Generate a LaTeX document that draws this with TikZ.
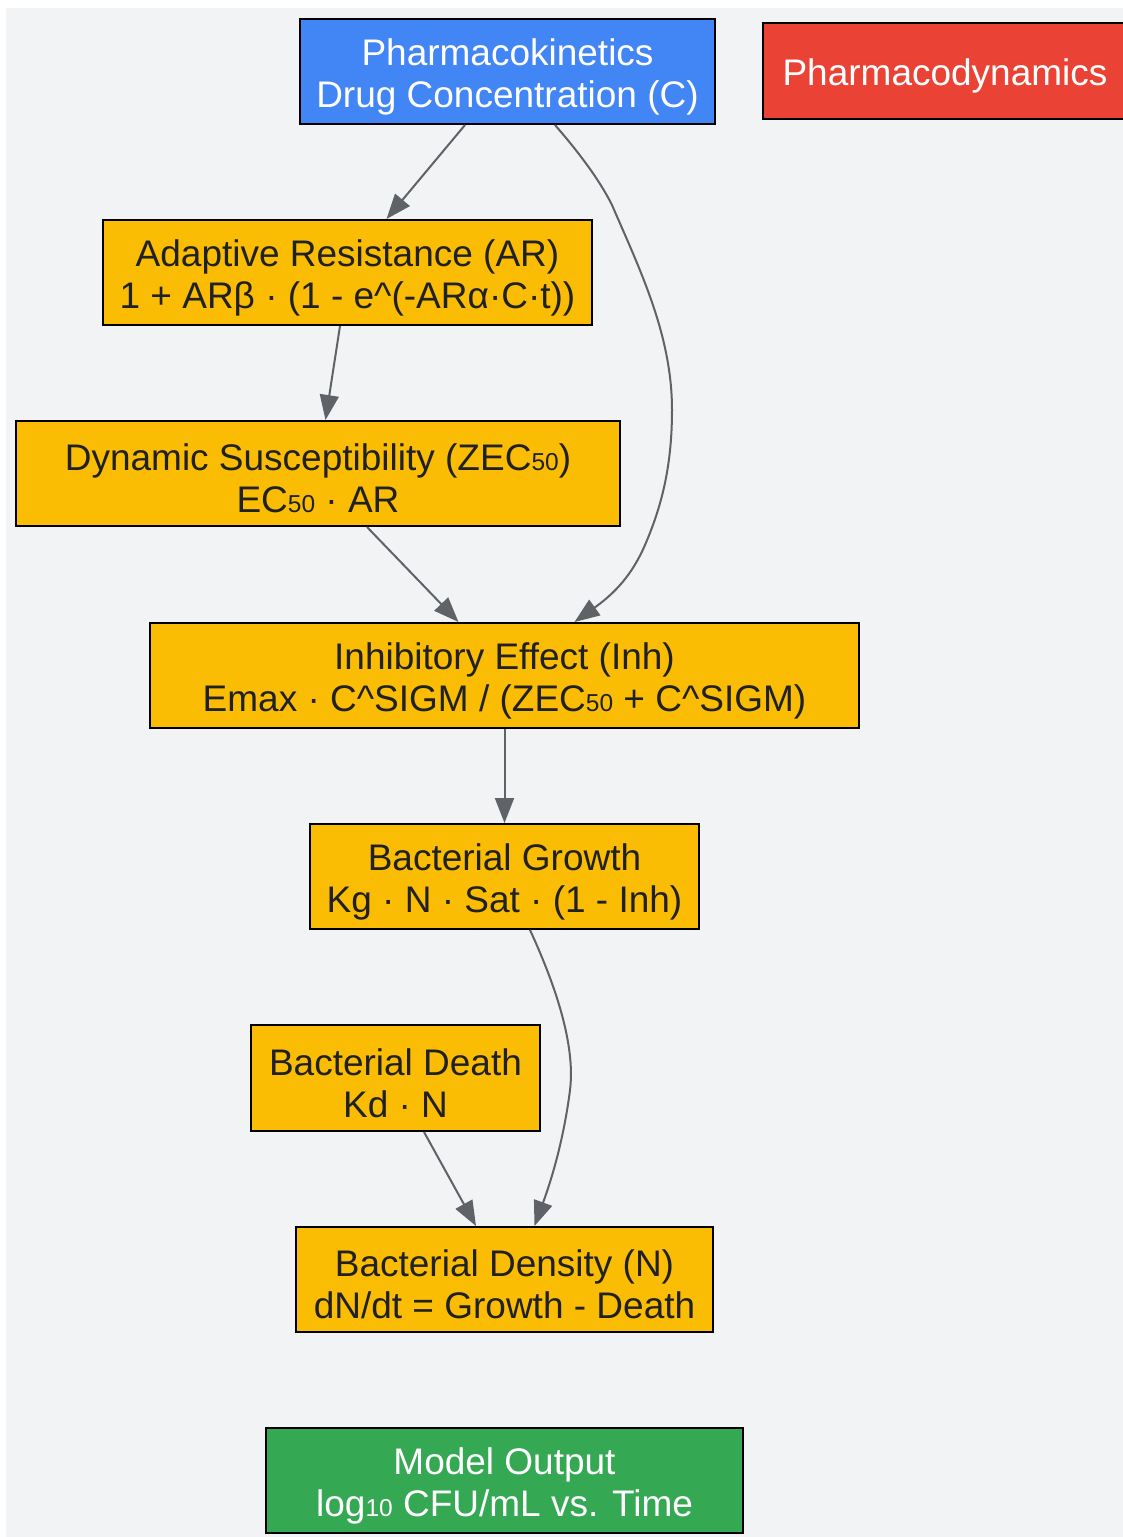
\documentclass[tikz,border=0pt]{standalone}
\usepackage{fontspec}
\setmainfont{Liberation Sans}
\usetikzlibrary{arrows.meta}
\definecolor{bgc}{HTML}{F1F3F4}
\definecolor{gblue}{HTML}{4285F4}
\definecolor{gred}{HTML}{EA4335}
\definecolor{gyellow}{HTML}{FBBC04}
\definecolor{ggreen}{HTML}{34A853}
\definecolor{tdark}{HTML}{202124}
\definecolor{edgec}{HTML}{5F6368}
\newcommand{\sbd}[1]{{\fontsize{24.5}{24.5}\selectfont #1}}
\newcommand{\tstrut}{\rule{0pt}{37pt}}
\begin{document}
\begin{tikzpicture}[x=1pt,y=-1pt,
  box/.style={draw=black, line width=2pt, align=center, inner sep=0pt, minimum height=105pt, font=\fontsize{37}{42}\selectfont},
  ybox/.style={box, fill=gyellow, text=tdark},
  conn/.style={draw=edgec, line width=2pt, -{Triangle[length=25pt,width=19pt]}}]
\useasboundingbox (0,0) rectangle (1123,1537);
\fill[bgc] (6,8) rectangle (1123,1537);
\node[box, fill=gblue, text=white, minimum width=415pt] (pk) at (507.5,71.5) {\tstrut Pharmacokinetics\\Drug Concentration (C)};
\node[box, fill=gred, text=white, minimum width=364pt, minimum height=96pt] (pd) at (945,71) {\tstrut Pharmacodynamics};
\node[ybox, minimum width=489pt] (ar) at (347.5,272.5) {\tstrut Adaptive Resistance (AR)\\1 + ARβ · (1 - e\^{}(-ARα·C·t))};
\node[ybox, minimum width=604pt] (zec) at (318,473.5) {\tstrut Dynamic Susceptibility (ZEC\sbd{50})\\EC\sbd{50} · AR};
\node[ybox, minimum width=709pt] (inh) at (504.5,675.5) {\tstrut Inhibitory Effect (Inh)\\Emax · C\^{}SIGM / (ZEC\sbd{50} + C\^{}SIGM)};
\node[ybox, minimum width=389pt] (growth) at (504.5,876.5) {\tstrut Bacterial Growth\\Kg · N · Sat · (1 - Inh)};
\node[ybox, minimum width=289pt, minimum height=106pt] (death) at (395.5,1078) {\tstrut Bacterial Death\\Kd · N};
\node[ybox, minimum width=417pt] (density) at (504.5,1279.5) {\tstrut Bacterial Density (N)\\dN/dt = Growth - Death};
\node[box, fill=ggreen, text=white, minimum width=477pt] (out) at (504.5,1480.5) {\tstrut Model Output\\log\sbd{10} CFU/mL vs. Time};
\draw[conn] ([xshift=-42.5pt]pk.south) -- ([xshift=39pt]ar.north);
\draw[conn] ([xshift=47.5pt]pk.south) .. controls (575,148) and (598,177) .. (612,205)
  .. controls (640,270) and (672,335) .. (672,410)
  .. controls (672,470) and (660,510) .. (645,545)
  .. controls (632,575) and (615,593) .. ([xshift=70pt]inh.north);
\draw[conn] ([xshift=-7.5pt]ar.south) -- ([xshift=7.5pt]zec.north);
\draw[conn] ([xshift=49pt]zec.south) -- ([xshift=-46pt]inh.north);
\draw[conn] (inh.south) -- (growth.north);
\draw[conn] ([xshift=25.5pt]growth.south) .. controls (560,995) and (575,1050) .. (570,1090)
  .. controls (565,1130) and (555,1170) .. ([xshift=30pt]density.north);
\draw[conn] ([xshift=28.5pt]death.south) -- ([xshift=-28.5pt]density.north);
\end{tikzpicture}
\end{document}
